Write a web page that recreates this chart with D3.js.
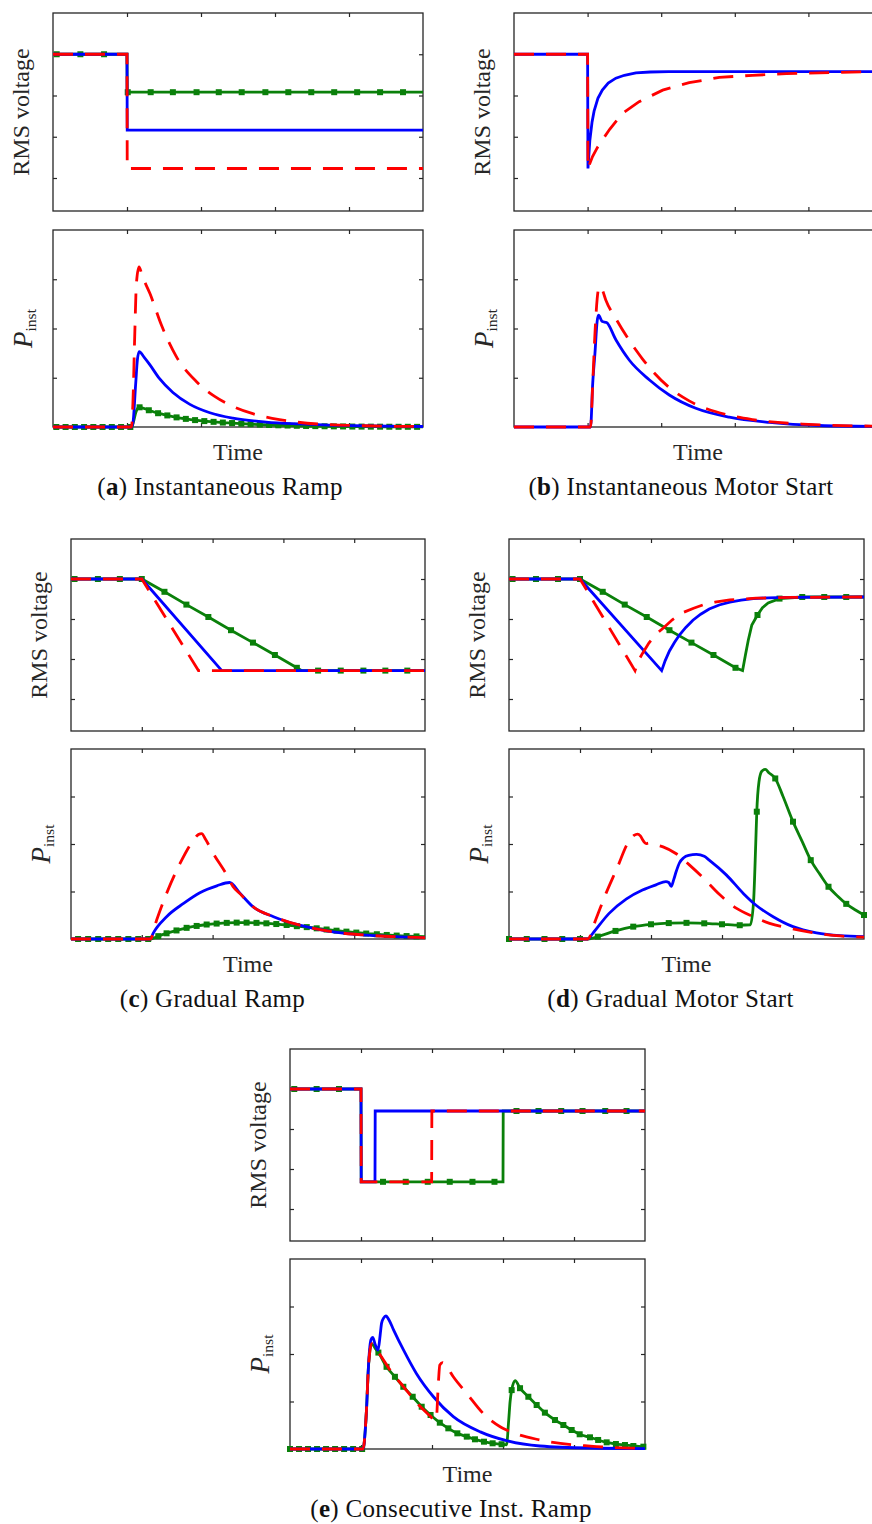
<!DOCTYPE html>
<html>
<head>
<meta charset="utf-8">
<script src="https://cdn.jsdelivr.net/npm/d3@7"></script>
<style>
  body { margin: 0; background: #fff; }
  svg { display: block; }
  text { font-family: "Liberation Serif", "Times New Roman", serif; fill: #262626; }
</style>
</head>
<body>
<script>
// shared axes (unlabelled ticks, arbitrary units)
const timeDomain = [0, 5];
const timeTicks = [1, 2, 3, 4];
const voltDomain = [0.62, 1.1];
const voltTicks = [0.7, 0.8, 0.9, 1.0];
const powerDomain = [0, 4];
const powerTicks = [1, 2, 3];

const captions = [
  ['a', ' Instantaneous Ramp'],
  ['b', ' Instantaneous Motor Start'],
  ['c', ' Gradual Ramp'],
  ['d', ' Gradual Motor Start'],
  ['e', ' Consecutive Inst. Ramp']
];

// green points: [time, value, marker?]
// (a) instantaneous ramp
const aVoltGreen = [[0,1,0],[0.05,1,1],[0.37,1,1],[0.69,1,1],[1.0,1,0],[1.003,0.908,0],[1.01,0.908,1],[1.32,0.908,1],[1.62,0.908,1],
  [1.94,0.908,1],[2.24,0.908,1],[2.55,0.908,1],[2.87,0.908,1],[3.18,0.908,1],[3.49,0.908,1],[3.80,0.908,1],[4.11,0.908,1],
  [4.42,0.908,1],[4.73,0.908,1],[5,0.908,0]];
const aVoltBlue = [[0,1],[1.0,1],[1.003,0.816],[5,0.816]];
const aVoltRed = [[0,1],[1.0,1],[1.003,0.723],[5,0.723]];
const aPowGreen = [[0,0,0],[0.045,0,1],[0.17,0,1],[0.295,0,1],[0.42,0,1],[0.545,0,1],[0.67,0,1],[0.795,0,1],[0.92,0,1],[1.045,0,1],
  [1.065,0,0],[1.09,0.12,0],[1.12,0.3,0],[1.145,0.38,0],[1.17,0.40,1],[1.295,0.34,1],[1.42,0.28,1],[1.545,0.235,1],[1.67,0.195,1],
  [1.795,0.165,1],[1.92,0.14,1],[2.045,0.12,1],[2.17,0.105,1],[2.295,0.09,1],[2.42,0.08,1],[2.545,0.068,1],[2.67,0.058,1],
  [2.795,0.049,1],[2.92,0.041,1],[3.045,0.035,1],[3.17,0.03,1],[3.295,0.025,1],[3.42,0.021,1],[3.545,0.018,1],[3.67,0.015,1],
  [3.795,0.013,1],[3.92,0.011,1],[4.045,0.009,1],[4.17,0.008,1],[4.295,0.007,1],[4.42,0.006,1],[4.545,0.005,1],[4.67,0.004,1],
  [4.795,0.004,1],[4.92,0.003,1],[5,0.003,0]];
const aPowBlue = [[0,0],[1.06,0],[1.08,0.08],[1.118,0.89],[1.14,1.36],[1.165,1.53],[1.23,1.42],[1.31,1.26],[1.44,0.98],[1.62,0.70],
  [1.85,0.46],[2.12,0.29],[2.43,0.18],[2.88,0.10],[3.33,0.062],[3.8,0.035],[4.3,0.02],[5,0.01]];
const aPowRed = [[0,0],[1.06,0],[1.08,0.49],[1.104,1.83],[1.127,2.91],[1.162,3.25],[1.21,3.05],[1.31,2.71],[1.465,2.07],[1.667,1.43],
  [1.94,0.92],[2.185,0.62],[2.43,0.42],[2.70,0.27],[3.06,0.15],[3.29,0.10],[3.7,0.05],[4.2,0.025],[5,0.01]];

// (b) instantaneous motor start
const bVoltBlue = [[0,1],[1.0,1],[1.005,0.723],[1.03,0.79],[1.06,0.835],[1.088,0.862],[1.14,0.893],[1.2,0.913],[1.28,0.93],
  [1.384,0.942],[1.5,0.949],[1.656,0.955],[1.85,0.957],[2.1,0.958],[5,0.958]];
const bVoltRed = [[0,1],[1.0,1],[1.005,0.723],[1.03,0.735],[1.067,0.752],[1.13,0.773],[1.2,0.792],[1.3,0.818],[1.475,0.857],
  [1.7,0.885],[2.02,0.913],[2.38,0.931],[2.79,0.944],[3.24,0.949],[3.7,0.953],[4.38,0.956],[5,0.958]];
const bPowBlue = [[0,0],[1.04,0],[1.07,0.9],[1.1,1.5],[1.13,2.15],[1.148,2.27],[1.2,2.14],[1.257,2.12],[1.384,1.77],[1.565,1.36],
  [1.837,0.96],[2.11,0.65],[2.47,0.38],[2.925,0.20],[3.47,0.093],[4.15,0.03],[5,0.01]];
const bPowRed = [[0,0],[1.04,0],[1.07,0.9],[1.1,1.9],[1.13,2.6],[1.157,2.85],[1.2,2.78],[1.247,2.58],[1.384,2.2],[1.565,1.76],
  [1.747,1.38],[2.11,0.80],[2.38,0.53],[2.79,0.29],[3.24,0.15],[3.92,0.06],[5,0.015]];

// (c) gradual ramp
const cVoltGreen = [[0,1,0],[0.05,1,1],[0.38,1,1],[0.69,1,1],[1.0,1,1],[1.32,0.968,1],[1.63,0.936,1],[1.94,0.905,1],[2.26,0.872,1],
  [2.57,0.841,1],[2.88,0.810,1],[3.19,0.778,1],[3.26,0.771,0],[3.49,0.771,1],[3.81,0.771,1],[4.13,0.771,1],[4.44,0.771,1],
  [4.75,0.771,1],[5,0.771,0]];
const cVoltBlue = [[0,1],[1.0,1],[2.13,0.771],[5,0.771]];
const cVoltRed = [[0,1],[1.0,1],[1.80,0.771],[5,0.771]];
const cPowGreen = [[0,0,0],[0.10,0,1],[0.242,0,1],[0.384,0,1],[0.525,0,1],[0.667,0,1],[0.81,0,1],[0.95,0,1],[1.09,0,1],[1.13,0,0],
  [1.233,0.06,1],[1.35,0.12,1],[1.49,0.18,1],[1.633,0.235,1],[1.775,0.275,1],[1.916,0.305,1],[2.057,0.325,1],[2.2,0.34,1],
  [2.34,0.345,1],[2.48,0.345,1],[2.62,0.34,1],[2.76,0.33,1],[2.9,0.315,1],[3.046,0.295,1],[3.19,0.27,1],[3.33,0.25,1],
  [3.47,0.225,1],[3.61,0.2,1],[3.75,0.175,1],[3.89,0.155,1],[4.03,0.135,1],[4.17,0.115,1],[4.32,0.1,1],[4.46,0.085,1],
  [4.60,0.072,1],[4.74,0.062,1],[4.88,0.055,1],[5,0.05,0]];
const cPowBlue = [[0,0],[1.12,0],[1.16,0.12],[1.35,0.47],[1.59,0.75],[1.82,0.975],[2.06,1.12],[2.24,1.19],[2.39,0.96],[2.57,0.68],
  [2.86,0.47],[3.23,0.29],[3.70,0.15],[4.18,0.08],[4.65,0.045],[5,0.03]];
const cPowRed = [[0,0],[1.12,0],[1.21,0.40],[1.35,0.96],[1.54,1.59],[1.73,2.08],[1.80,2.2],[1.846,2.22],[1.9,2.1],[2.01,1.80],
  [2.2,1.35],[2.29,1.10],[2.39,0.95],[2.57,0.68],[2.86,0.47],[3.23,0.29],[3.70,0.15],[4.18,0.08],[4.65,0.045],[5,0.03]];

// (d) gradual motor start
const dVoltGreen = [[0,1,0],[0.05,1,1],[0.38,1,1],[0.69,1,1],[1.0,1,1],[1.32,0.968,1],[1.63,0.936,1],[1.94,0.905,1],[2.26,0.872,1],
  [2.57,0.841,1],[2.88,0.810,1],[3.19,0.778,1],[3.29,0.771,0],[3.33,0.81,0],[3.37,0.847,0],[3.42,0.885,0],[3.5,0.91,1],
  [3.57,0.928,0],[3.65,0.94,0],[3.81,0.951,1],[4.13,0.955,1],[4.44,0.955,1],[4.75,0.955,1],[5,0.955,0]];
const dVoltBlue = [[0,1],[1.0,1],[2.15,0.771],[2.2,0.796],[2.26,0.82],[2.33,0.841],[2.40,0.86],[2.49,0.879],[2.59,0.897],
  [2.7,0.912],[2.82,0.925],[2.96,0.935],[3.11,0.942],[3.27,0.947],[3.44,0.951],[3.65,0.953],[3.91,0.954],[5,0.955]];
const dVoltRed = [[0,1],[1.0,1],[1.775,0.771],[1.82,0.795],[1.88,0.814],[1.97,0.84],[2.07,0.862],[2.17,0.877],[2.3,0.898],
  [2.45,0.916],[2.6,0.927],[2.73,0.935],[2.9,0.942],[3.11,0.948],[3.48,0.952],[4,0.954],[5,0.955]];
const dPowGreen = [[0,0,1],[0.25,0,1],[0.5,0,1],[0.75,0,1],[1.0,0,1],[1.11,0,0],[1.25,0.05,1],[1.5,0.17,1],[1.75,0.26,1],
  [2.0,0.31,1],[2.25,0.335,1],[2.5,0.34,1],[2.75,0.33,1],[3.0,0.31,1],[3.25,0.29,1],[3.40,0.3,0],[3.445,0.8,0],[3.475,2.0,0],
  [3.49,2.68,1],[3.52,3.3,0],[3.56,3.53,0],[3.61,3.57,0],[3.66,3.5,0],[3.75,3.38,1],[3.86,3.0,0],[4.0,2.47,1],[4.13,2.05,0],
  [4.25,1.66,1],[4.38,1.36,0],[4.5,1.10,1],[4.63,0.9,0],[4.75,0.74,1],[4.88,0.61,0],[5.0,0.505,1]];
const dPowBlue = [[0,0],[1.11,0],[1.18,0.12],[1.41,0.54],[1.65,0.84],[1.88,1.03],[2.07,1.14],[2.21,1.21],[2.25,1.19],[2.285,1.11],
  [2.32,1.25],[2.355,1.42],[2.40,1.6],[2.46,1.71],[2.53,1.76],[2.64,1.78],[2.75,1.74],[2.82,1.66],[3.06,1.35],[3.30,0.96],
  [3.48,0.71],[3.72,0.47],[4.0,0.26],[4.33,0.13],[4.66,0.07],[5,0.05]];
const dPowRed = [[0,0],[1.11,0],[1.22,0.40],[1.366,0.96],[1.53,1.52],[1.67,2.01],[1.76,2.18],[1.81,2.21],[1.85,2.17],[1.89,2.07],
  [1.93,2.01],[1.97,2.02],[2.05,1.99],[2.17,1.94],[2.35,1.80],[2.54,1.56],[2.74,1.28],[2.97,0.93],[3.2,0.65],[3.44,0.47],
  [3.67,0.33],[3.96,0.225],[4.29,0.13],[4.61,0.07],[5,0.04]];

// (e) consecutive instantaneous ramp
const eVoltGreen = [[0,1,0],[0.06,1,1],[0.375,1,1],[0.69,1,1],[1.0,1,0],[1.003,0.768,0],[1.31,0.768,1],[1.63,0.768,1],[1.94,0.768,1],
  [2.25,0.768,1],[2.57,0.768,1],[2.88,0.768,1],[3.0,0.768,0],[3.003,0.945,0],[3.19,0.945,1],[3.5,0.945,1],[3.82,0.945,1],
  [4.12,0.945,1],[4.44,0.945,1],[4.74,0.945,1],[5,0.945,0]];
const eVoltBlue = [[0,1],[1.0,1],[1.003,0.768],[1.197,0.768],[1.2,0.945],[5,0.945]];
const eVoltRed = [[0,1],[1.0,1],[1.003,0.768],[1.995,0.768],[1.998,0.945],[5,0.945]];
const ePowGreen = [[0,0,1],[0.127,0,1],[0.254,0,1],[0.381,0,1],[0.508,0,1],[0.635,0,1],[0.762,0,1],[0.889,0,1],[1.016,0,1],
  [1.03,0,0],[1.06,0.4,0],[1.08,0.9,0],[1.10,1.6,0],[1.12,2.0,0],[1.15,2.22,0],[1.2,2.12,0],[1.245,2.03,1],[1.36,1.73,1],
  [1.478,1.52,1],[1.596,1.31,1],[1.728,1.10,1],[1.855,0.89,1],[1.98,0.716,1],[2.11,0.554,1],[2.23,0.435,1],[2.357,0.33,1],
  [2.49,0.26,1],[2.605,0.204,1],[2.732,0.154,1],[2.854,0.12,1],[2.98,0.10,1],[3.05,0.09,0],[3.08,0.6,0],[3.10,1.0,0],
  [3.122,1.24,1],[3.17,1.44,0],[3.24,1.28,1],[3.357,1.10,1],[3.474,0.926,1],[3.59,0.765,1],[3.732,0.61,1],[3.85,0.505,1],
  [3.967,0.40,1],[4.08,0.31,1],[4.225,0.246,1],[4.34,0.19,1],[4.46,0.14,1],[4.59,0.105,1],[4.718,0.084,1],[4.836,0.063,1],
  [4.977,0.049,1],[5,0.047,0]];
const ePowBlue = [[0,0],[1.03,0],[1.06,0.4],[1.08,0.9],[1.10,1.6],[1.12,2.08],[1.14,2.3],[1.165,2.35],[1.2,2.2],[1.24,2.08],
  [1.27,2.4],[1.29,2.65],[1.32,2.76],[1.35,2.80],[1.4,2.7],[1.455,2.52],[1.6,2.08],[1.78,1.59],[2.02,1.10],[2.30,0.68],
  [2.68,0.36],[3.05,0.175],[3.52,0.063],[4.23,0.021],[5,0.01]];
const ePowRed = [[0,0],[1.03,0],[1.06,0.4],[1.08,0.9],[1.10,1.6],[1.12,2.0],[1.15,2.22],[1.2,2.12],[1.27,1.98],[1.41,1.66],
  [1.6,1.31],[1.78,0.98],[1.97,0.70],[2.04,0.60],[2.06,0.62],[2.09,1.4],[2.11,1.77],[2.15,1.82],[2.2,1.75],[2.30,1.52],
  [2.49,1.17],[2.72,0.75],[2.96,0.47],[3.05,0.40],[3.52,0.19],[4.23,0.06],[4.79,0.02],[5,0.015]];

// layout of the five sub-figures (pixels)
const panels = [
  {left: 53, right: 423, top1: 13, bot1: 211, top2: 230, bot2: 427, capX: 220,
   volt: [aVoltGreen, aVoltBlue, aVoltRed], pow: [aPowGreen, aPowBlue, aPowRed]},
  {left: 514, right: 882, top1: 13, bot1: 211, top2: 230, bot2: 427, capX: 681,
   volt: [null, bVoltBlue, bVoltRed], pow: [null, bPowBlue, bPowRed]},
  {left: 71, right: 425, top1: 539, bot1: 731, top2: 749, bot2: 939, capX: 212.5,
   volt: [cVoltGreen, cVoltBlue, cVoltRed], pow: [cPowGreen, cPowBlue, cPowRed]},
  {left: 509, right: 864, top1: 539, bot1: 731, top2: 749, bot2: 939, capX: 670.5,
   volt: [dVoltGreen, dVoltBlue, dVoltRed], pow: [dPowGreen, dPowBlue, dPowRed]},
  {left: 290, right: 645, top1: 1049, bot1: 1241, top2: 1259, bot2: 1449, capX: 451,
   volt: [eVoltGreen, eVoltBlue, eVoltRed], pow: [ePowGreen, ePowBlue, ePowRed]}
];

const green = '#0a800a', blue = '#0000ff', red = '#ff0000';
const axisColor = '#262626';

let svg = d3.select('body').append('svg')
    .attr('width', 872)
    .attr('height', 1524);

function drawBox(g, x, y, yTicks, top, bottom, left, right) {
  g.append('rect')
      .attr('x', left).attr('y', top)
      .attr('width', right - left).attr('height', bottom - top)
      .attr('fill', 'none')
      .attr('stroke', axisColor)
      .attr('stroke-width', 1.3);

  let ticks = [
    [d3.axisBottom(x).tickValues(timeTicks), 'translate(0,' + bottom + ')'],
    [d3.axisTop(x).tickValues(timeTicks), 'translate(0,' + top + ')'],
    [d3.axisLeft(y).tickValues(yTicks), 'translate(' + left + ',0)'],
    [d3.axisRight(y).tickValues(yTicks), 'translate(' + right + ',0)']
  ];
  ticks.forEach(function(t) {
    g.append('g')
        .attr('transform', t[1])
        .attr('color', axisColor)
        .call(t[0].tickSize(-4).tickFormat(''))
        .call(function(a) { a.select('.domain').remove(); })
        .selectAll('line').attr('stroke-width', 1.2);
  });
}

function drawSeries(g, x, y, series, curve) {
  let line = d3.line()
    .x(function(d) { return x(d[0]); })
    .y(function(d) { return y(d[1]); })
    .curve(curve);

  // green first, then blue, red dashed on top
  if (series[0]) {
    g.append('path')
        .datum(series[0])
        .attr('d', line)
        .attr('fill', 'none')
        .attr('stroke', green)
        .attr('stroke-width', 2.8);
    g.selectAll('.mk')
      .data(series[0].filter(function(d) { return d[2] === 1; }))
      .enter().append('rect')
        .attr('x', function(d) { return x(d[0]) - 3; })
        .attr('y', function(d) { return y(d[1]) - 3; })
        .attr('width', 6).attr('height', 6)
        .attr('fill', green);
  }
  g.append('path')
      .datum(series[1])
      .attr('d', line)
      .attr('fill', 'none')
      .attr('stroke', blue)
      .attr('stroke-width', 2.8);
  g.append('path')
      .datum(series[2])
      .attr('d', line)
      .attr('fill', 'none')
      .attr('stroke', red)
      .attr('stroke-width', 2.8)
      .attr('stroke-dasharray', '20,12');
}

panels.forEach(function(p, i) {
  let g = svg.append('g');
  let x = d3.scaleLinear().domain(timeDomain).range([p.left, p.right]);
  let yV = d3.scaleLinear().domain(voltDomain).range([p.bot1, p.top1]);
  let yP = d3.scaleLinear().domain(powerDomain).range([p.bot2, p.top2]);

  drawBox(g, x, yV, voltTicks, p.top1, p.bot1, p.left, p.right);
  drawBox(g, x, yP, powerTicks, p.top2, p.bot2, p.left, p.right);

  drawSeries(g, x, yV, p.volt, d3.curveLinear);
  drawSeries(g, x, yP, p.pow, d3.curveMonotoneX);

  // y labels
  g.append('text')
      .attr('transform', 'translate(' + (p.left - 24) + ',' + ((p.top1 + p.bot1) / 2) + ') rotate(-90)')
      .attr('text-anchor', 'middle')
      .style('font-size', '24px')
      .text('RMS voltage');

  let pl = g.append('text')
      .attr('transform', 'translate(' + (p.left - 21) + ',' + ((p.top2 + p.bot2) / 2) + ') rotate(-90)')
      .attr('text-anchor', 'middle');
  pl.append('tspan').style('font-style', 'italic').style('font-size', '27px').text('P');
  pl.append('tspan').attr('dy', 4).style('font-size', '15.5px').text('inst');

  g.append('text')
      .attr('x', (p.left + p.right) / 2)
      .attr('y', p.bot2 + 33)
      .attr('text-anchor', 'middle')
      .style('font-size', '24px')
      .text('Time');

  let cap = g.append('text')
      .attr('x', p.capX)
      .attr('y', p.bot2 + 68)
      .attr('text-anchor', 'middle')
      .style('font-size', '25px')
      .style('fill', '#111')
      .style('letter-spacing', '0.3px');
  cap.append('tspan').text('(');
  cap.append('tspan').style('font-weight', 'bold').text(captions[i][0]);
  cap.append('tspan').text(')' + captions[i][1]);
});
</script>
</body>
</html>
